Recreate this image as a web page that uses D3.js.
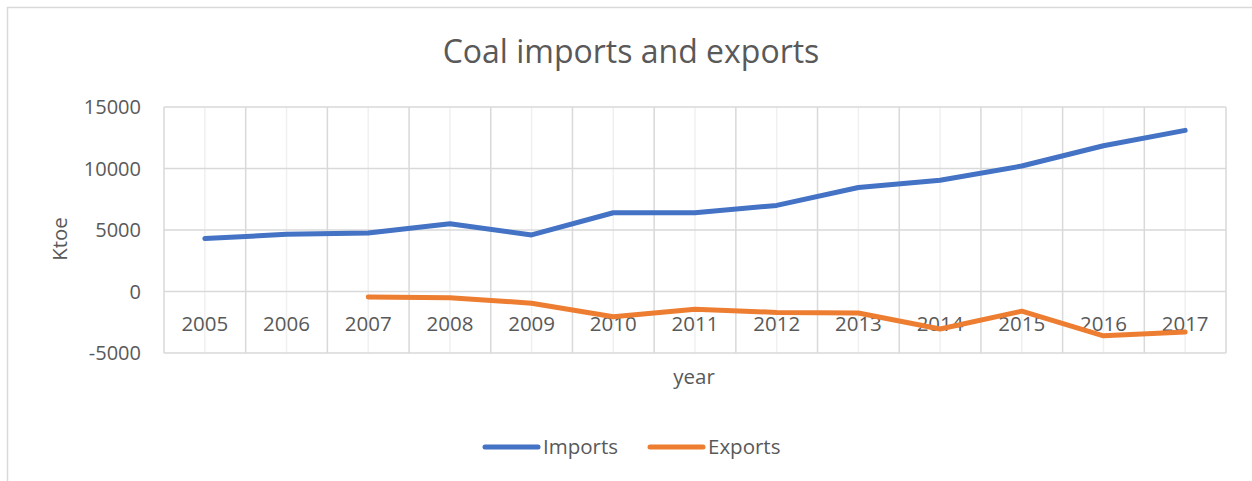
<!DOCTYPE html>
<html>
<head>
<meta charset="utf-8">
<script src="https://cdn.jsdelivr.net/npm/d3@7"></script>
<style>
  body { margin: 0; background: #fff; }
  text { font-family: "Open Sans", "Noto Sans", sans-serif; fill: #595959; }
</style>
</head>
<body>
<div id="chart"></div>
<script>
var years = ["2005","2006","2007","2008","2009","2010","2011","2012","2013","2014","2015","2016","2017"];
var imports = [4300, 4650, 4750, 5500, 4600, 6400, 6400, 7000, 8450, 9050, 10200, 11850, 13100];
var exports = [null, null, -450, -500, -950, -2050, -1450, -1700, -1750, -3050, -1600, -3600, -3300];
var yTicks = [-5000, 0, 5000, 10000, 15000];

var W = 1252, H = 481;
var margin = {top: 107, right: 26, bottom: 128, left: 164},
    width = W - margin.left - margin.right,
    height = H - margin.top - margin.bottom;

var svg = d3.select("#chart").append("svg")
  .attr("width", W)
  .attr("height", H);

// chart frame
svg.append("rect")
  .attr("x", 7.5).attr("y", 7.5)
  .attr("width", W).attr("height", H)
  .attr("fill", "none")
  .attr("stroke", "#d9d9d9")
  .attr("stroke-width", 1.5);

svg.append("text")
  .attr("x", 631).attr("y", 63)
  .attr("text-anchor", "middle")
  .style("font-size", "32px")
  .text("Coal imports and exports");

var g = svg.append("g")
  .attr("transform", "translate(" + margin.left + "," + margin.top + ")");

var x = d3.scaleBand().domain(years).range([0, width]);
var y = d3.scaleLinear().domain([-5000, 15000]).range([height, 0]);

// minor vertical gridlines (category centres)
g.selectAll(".minor")
  .data(years)
  .enter().append("line")
  .attr("x1", d => x(d) + x.bandwidth() / 2)
  .attr("x2", d => x(d) + x.bandwidth() / 2)
  .attr("y1", 0).attr("y2", height)
  .attr("stroke", "#f0f0f0")
  .attr("stroke-width", 1.5);

// major vertical gridlines (category boundaries)
g.selectAll(".major")
  .data(years.concat(["end"]))
  .enter().append("line")
  .attr("x1", (d, i) => i * x.step())
  .attr("x2", (d, i) => i * x.step())
  .attr("y1", 0).attr("y2", height)
  .attr("stroke", "#d9d9d9")
  .attr("stroke-width", 1.5);

// horizontal gridlines
g.selectAll(".hgrid")
  .data(yTicks)
  .enter().append("line")
  .attr("x1", 0).attr("x2", width)
  .attr("y1", d => y(d)).attr("y2", d => y(d))
  .attr("stroke", "#d9d9d9")
  .attr("stroke-width", 1.5);

// y axis labels
g.selectAll(".ylab")
  .data(yTicks)
  .enter().append("text")
  .attr("x", -23)
  .attr("y", d => y(d))
  .attr("dy", "0.35em")
  .attr("text-anchor", "end")
  .style("font-size", "20px")
  .text(d => d);

// category labels sit next to the zero line
g.selectAll(".xlab")
  .data(years)
  .enter().append("text")
  .attr("x", d => x(d) + x.bandwidth() / 2)
  .attr("y", y(0) + 32)
  .attr("dy", "0.35em")
  .attr("text-anchor", "middle")
  .style("font-size", "20.5px")
  .text(d => d);

var line = d3.line()
  .defined(d => d != null)
  .x((d, i) => x(years[i]) + x.bandwidth() / 2)
  .y(d => y(d));

g.append("path")
  .datum(imports)
  .attr("fill", "none")
  .attr("stroke", "#4472c4")
  .attr("stroke-width", 5)
  .attr("stroke-linecap", "round")
  .attr("stroke-linejoin", "round")
  .attr("d", line);

g.append("path")
  .datum(exports)
  .attr("fill", "none")
  .attr("stroke", "#ed7d31")
  .attr("stroke-width", 5)
  .attr("stroke-linecap", "round")
  .attr("stroke-linejoin", "round")
  .attr("d", line);

// axis titles
svg.append("text")
  .attr("x", 694).attr("y", 377)
  .attr("dy", "0.35em")
  .attr("text-anchor", "middle")
  .style("font-size", "20.5px")
  .text("year");

svg.append("text")
  .attr("transform", "translate(60,239) rotate(-90)")
  .attr("dy", "0.35em")
  .attr("text-anchor", "middle")
  .style("font-size", "20.5px")
  .text("Ktoe");

// legend
var legend = [
  {name: "Imports", color: "#4472c4", x: 485},
  {name: "Exports", color: "#ed7d31", x: 650}
];
var lg = svg.selectAll(".legend")
  .data(legend)
  .enter().append("g")
  .attr("transform", d => "translate(" + d.x + ",447)");
lg.append("line")
  .attr("x1", 0).attr("x2", 53)
  .attr("stroke", d => d.color)
  .attr("stroke-width", 5)
  .attr("stroke-linecap", "round");
lg.append("text")
  .attr("x", 58)
  .attr("dy", "0.35em")
  .style("font-size", "20.5px")
  .text(d => d.name);
</script>
</body>
</html>
